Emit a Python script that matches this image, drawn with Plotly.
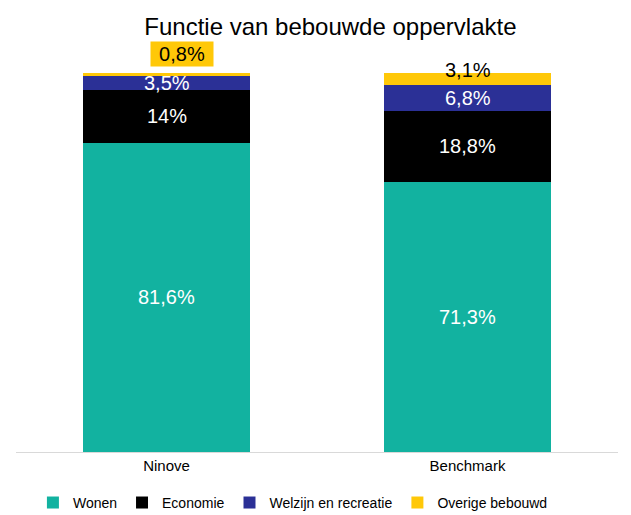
import plotly.graph_objects as go

categories = ["Ninove", "Benchmark"]
series_names = ["Wonen", "Economie", "Welzijn en recreatie", "Overige bebouwd"]
wonen = [81.6, 71.3]
economie = [14, 18.8]
welzijn = [3.5, 6.8]
overige = [0.8, 3.1]
colors = ["#12B2A0", "#000000", "#2B3096", "#FFC808"]
label_colors = ["white", "white", "white", "black"]

series = [wonen, economie, welzijn, overige]
FONT = "Liberation Sans, Arial"

def fmt(v):
    s = f"{v:g}".replace(".", ",")
    return s + "%"

fig = go.Figure()
for name, vals, col in zip(series_names, series, colors):
    fig.add_trace(go.Bar(x=categories, y=vals, name=name, marker_color=col,
                         marker_line_width=0, hoverinfo="skip"))

annotations = []
base = [0.0, 0.0]
for si, vals in enumerate(series):
    for ci, v in enumerate(vals):
        mid = base[ci] + v / 2
        a = dict(x=categories[ci], y=mid, xref="x", yref="y", text=fmt(v),
                 showarrow=False, font=dict(family=FONT, size=20,
                                            color=label_colors[si]))
        if si == 3:
            if v < 2:
                a["y"] = base[ci] + v
                a["yshift"] = 19
                a["xshift"] = 15
                a["bgcolor"] = "#FFC808"
                a["borderpad"] = 1
                a["width"] = 60
            else:
                a["yshift"] = 9
        annotations.append(a)
        base[ci] += v

fig.update_layout(
    width=631, height=515,
    barmode="stack", bargap=0.445,
    separators=", ",
    paper_bgcolor="white", plot_bgcolor="white",
    margin=dict(l=8, r=21, t=65, b=71, autoexpand=False),
    title=dict(text="Functie van bebouwde oppervlakte", x=0.511, xanchor="center",
               y=0.963, yanchor="middle",
               font=dict(family=FONT, size=24, color="black")),
    font=dict(family=FONT, size=14, color="black"),
    xaxis=dict(showline=True, linecolor="#D9D9D9", linewidth=1, ticks="",
               tickfont=dict(size=15), showgrid=False),
    yaxis=dict(range=[0, 100], visible=False, showgrid=False),
    legend=dict(orientation="h", x=0.46, xanchor="center", yref="container",
                y=0.039, yanchor="middle",
                font=dict(size=14), itemwidth=30, traceorder="normal",
                itemclick=False),
    showlegend=True,
    annotations=annotations,
)

fig.write_html("out.html")
